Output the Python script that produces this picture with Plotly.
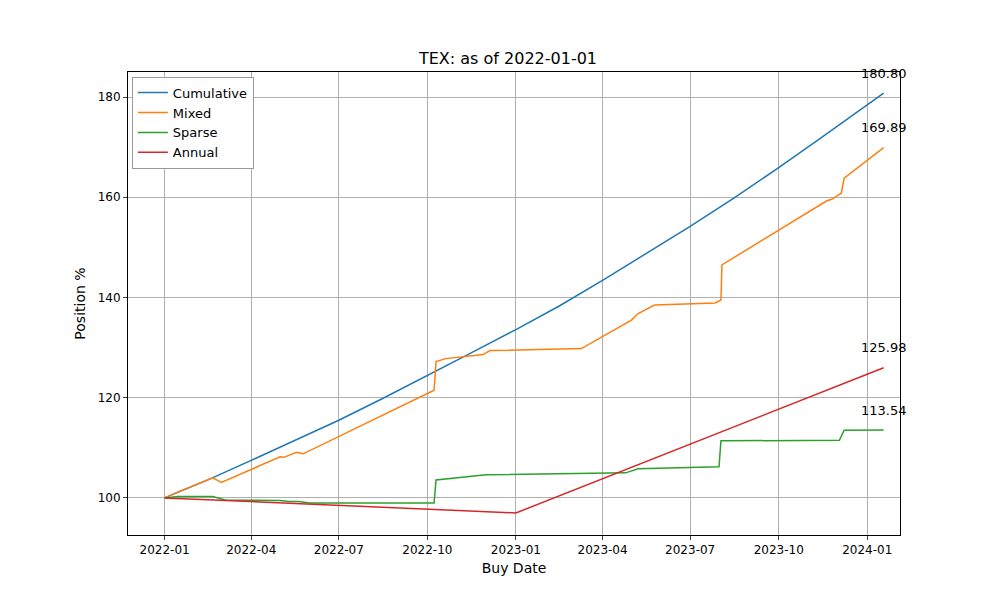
import plotly.graph_objects as go

# Values
cum_dates = ["2022-01-01", "2022-02-15", "2022-04-01", "2022-05-15", "2022-07-01", "2022-08-15",
             "2022-10-01", "2022-11-15", "2023-01-01", "2023-02-15", "2023-04-01", "2023-05-15",
             "2023-07-01", "2023-08-15", "2023-10-01", "2023-11-15", "2024-01-01", "2024-01-18"]
cum_vals = [100, 103.6, 107.5, 111.4, 115.5, 119.8, 124.4, 128.9, 133.6, 138.3, 143.4, 148.6,
            154.2, 159.8, 165.9, 172.0, 178.5, 180.80]

mix_dates = ["2022-01-01", "2022-01-15", "2022-02-20", "2022-03-01", "2022-05-01", "2022-05-05",
             "2022-05-18", "2022-05-25", "2022-10-08", "2022-10-10", "2022-10-20", "2022-11-28",
             "2022-12-05", "2023-03-10", "2023-05-01", "2023-05-08", "2023-05-25", "2023-07-27",
             "2023-08-02", "2023-08-03", "2023-11-20", "2023-11-25", "2023-12-05", "2023-12-08",
             "2024-01-18"]
mix_vals = [100, 101.2, 104.0, 103.1, 108.2, 108.1, 109.1, 108.8, 121.5, 127.2, 127.8, 128.6,
            129.4, 129.8, 135.5, 136.8, 138.5, 138.9, 139.5, 146.5, 159.3, 159.6, 160.8, 163.8,
            169.89]

spa_dates = ["2022-01-01", "2022-01-15", "2022-02-20", "2022-03-05", "2022-05-01", "2022-05-10",
             "2022-05-20", "2022-06-01", "2022-10-08", "2022-10-10", "2022-12-01", "2023-04-25",
             "2023-05-08", "2023-07-31", "2023-08-02", "2023-11-25", "2023-11-27", "2023-12-03",
             "2023-12-08", "2024-01-18"]
spa_vals = [100, 100.3, 100.3, 99.6, 99.5, 99.3, 99.3, 99.0, 99.0, 103.6, 104.6, 105.0,
            105.8, 106.2, 111.4, 111.4, 111.5, 111.5, 113.5, 113.54]

ann_dates = ["2022-01-01", "2023-01-01", "2024-01-18"]
ann_vals = [100, 97.0, 125.98]

series = [("Cumulative", cum_dates, cum_vals, "#1f77b4"),
          ("Mixed", mix_dates, mix_vals, "#ff7f0e"),
          ("Sparse", spa_dates, spa_vals, "#2ca02c"),
          ("Annual", ann_dates, ann_vals, "#d62728")]

fig = go.Figure()
for name, d, v, c in series:
    fig.add_trace(go.Scatter(x=d, y=v, mode="lines", name=name, line=dict(color=c, width=1.5)))
    fig.add_annotation(x=d[-1], y=v[-1], text=f"{v[-1]:.2f}", showarrow=False,
                       yshift=20, font=dict(size=13, color="black"))

fig.update_layout(
    width=1000, height=600,
    font=dict(family="DejaVu Sans", size=12, color="black"),
    title=dict(text="TEX: as of 2022-01-01", x=0.5, xanchor="center", y=0.925, font=dict(size=16)),
    plot_bgcolor="white", paper_bgcolor="white",
    margin=dict(l=120, r=108, t=64, b=73),
    legend=dict(x=0.005, y=0.99, xanchor="left", yanchor="top", bgcolor="white",
                bordercolor="#999", borderwidth=1, font=dict(size=13)),
)
axis = dict(showline=True, mirror=True, linecolor="black", linewidth=1, showgrid=True,
            gridcolor="#b0b0b0", gridwidth=1, ticks="outside", ticklen=4, zeroline=False,
            tickfont=dict(size=12))
fig.update_xaxes(**axis, title_text="Buy Date", title_standoff=6, range=["2021-11-24", "2024-02-04"],
                 tickvals=["2022-01-01", "2022-04-01", "2022-07-01", "2022-10-01", "2023-01-01",
                           "2023-04-01", "2023-07-01", "2023-10-01", "2024-01-01"],
                 tickformat="%Y-%m")
fig.update_yaxes(**axis, title_text="Position %", title_standoff=8, range=[92.6, 185], dtick=20)

fig.write_html("out.html")
